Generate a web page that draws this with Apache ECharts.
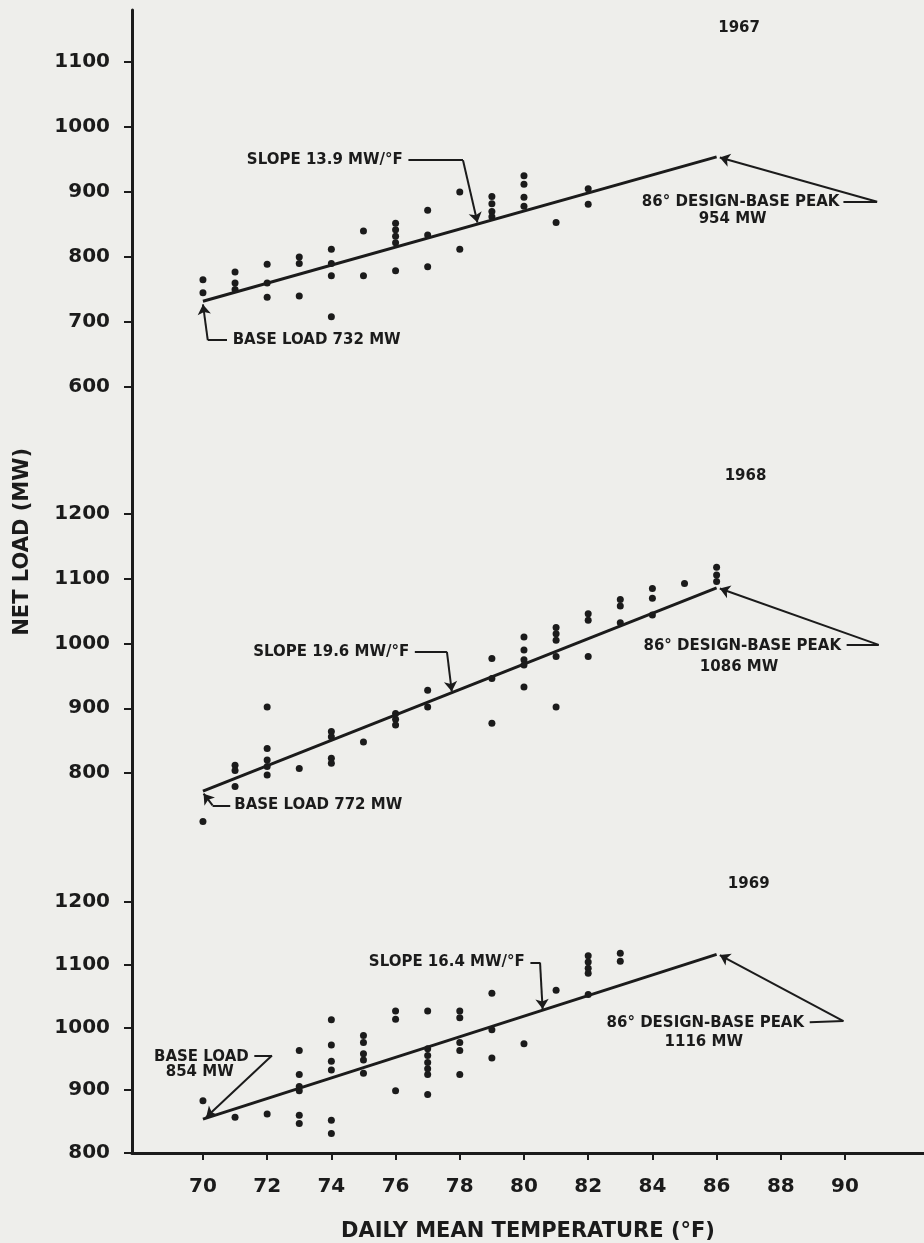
<!DOCTYPE html>
<html lang="en">
<head>
<meta charset="UTF-8">
<title>Net load vs daily mean temperature 1967-1969</title>
<style>
  body { margin: 0; background: #eeeeeb; }
  #chart { width: 924px; height: 1243px; }
</style>
</head>
<body>
<div id="chart"></div>
<script src="https://cdn.jsdelivr.net/npm/echarts@6/dist/echarts.min.js"></script>
<script>
// daily mean temperature (F) and net load (MW)
var temp1967 = [70,70, 71,71,71, 72,72,72, 73,73,73, 74,74,74,74, 75,75, 76,76,76,76,76, 77,77,77, 78,78, 79,79,79,79, 80,80,80,80, 81, 82,82];
var load1967 = [765,745, 777,760,750, 789,760,738, 800,790,740, 812,790,771,708, 840,771, 852,842,832,822,779, 872,834,785, 900,812, 893,882,870,862, 925,912,892,878, 853, 905,881];

var temp1968 = [70, 71,71,71, 72,72,72,72,72, 73, 74,74,74,74, 75, 76,76,76, 77,77, 79,79,79, 80,80,80,80,80, 81,81,81,81,81, 82,82,82, 83,83,83, 84,84,84, 85, 86,86,86];
var load1968 = [725, 812,804,779, 902,838,820,810,797, 807, 864,856,823,815, 848, 892,883,874, 928,902, 977,946,877, 1010,990,975,967,933, 1025,1015,1005,980,902, 1046,1036,980, 1068,1058,1032, 1085,1070,1044, 1093, 1118,1106,1096];

var temp1969 = [70, 71, 72, 73,73,73,73,73,73, 74,74,74,74,74,74, 75,75,75,75,75, 76,76,76, 77,77,77,77,77,77,77, 78,78,78,78,78, 79,79,79, 80, 81, 82,82,82,82,82, 83,83];
var load1969 = [883, 857, 862, 963,925,906,899,860,847, 1012,972,946,932,852,831, 987,976,958,948,927, 1026,1013,899, 1026,966,955,944,934,925,893, 1026,1015,976,963,925, 1054,996,951, 974, 1059, 1114,1104,1094,1086,1052, 1118,1105];

// fitted lines: base load at 70F, design-base peak at 86F
var fitTemp = [70, 86];
var fitLoad1967 = [732, 954];
var fitLoad1968 = [772, 1086];
var fitLoad1969 = [854, 1116];

// tick labels
var xTicks = [70, 72, 74, 76, 78, 80, 82, 84, 86, 88, 90];
var yTicks1967 = [600, 700, 800, 900, 1000, 1100];
var yTicks1968 = [800, 900, 1000, 1100, 1200];
var yTicks1969 = [800, 900, 1000, 1100, 1200];

// leader lines of the notes, [temp, load] points, arrow at the last one
var leaders1967 = [
  [[76.4, 949], [78.1, 949], [78.55, 853]],
  [[70.75, 672], [70.15, 672], [70.0, 727]],
  [[89.95, 885], [91.0, 885], [86.1, 953]]
];
var leaders1968 = [
  [[76.6, 987], [77.6, 987], [77.75, 926]],
  [[70.85, 750], [70.3, 750], [70.02, 768]],
  [[90.05, 998], [91.05, 998], [86.1, 1085]]
];
var leaders1969 = [
  [[71.6, 955], [72.15, 955], [70.1, 857]],
  [[80.2, 1103], [80.5, 1103], [80.58, 1029]],
  [[88.9, 1008], [89.95, 1010], [86.1, 1115]]
];

// notes: [temp, load, text, side]
var notes1967 = [
  [86.7, 1152, '1967', 'inside'],
  [76.35, 949, 'SLOPE 13.9 MW/°F', 'left'],
  [70.8, 672, 'BASE LOAD 732 MW', 'right'],
  [89.95, 885, '86° DESIGN-BASE PEAK', 'left'],
  [86.5, 858, '954 MW', 'inside']
];
var notes1968 = [
  [86.9, 1259, '1968', 'inside'],
  [76.55, 987, 'SLOPE 19.6 MW/°F', 'left'],
  [70.85, 750, 'BASE LOAD 772 MW', 'right'],
  [90.0, 996, '86° DESIGN-BASE PEAK', 'left'],
  [86.7, 964, '1086 MW', 'inside']
];
var notes1969 = [
  [87.0, 1228, '1969', 'inside'],
  [80.15, 1103, 'SLOPE 16.4 MW/°F', 'left'],
  [69.95, 953, 'BASE LOAD', 'inside'],
  [69.9, 929, '854 MW', 'inside'],
  [88.85, 1006, '86° DESIGN-BASE PEAK', 'left'],
  [85.6, 976, '1116 MW', 'inside']
];

var ink = '#1b1b1b';
var font = 'DejaVu Sans';

var panels = [
  {temp: temp1967, load: load1967, fit: fitLoad1967, ticks: yTicks1967, leaders: leaders1967, notes: notes1967, top: 10, height: 442, min: 500, max: 1180},
  {temp: temp1968, load: load1968, fit: fitLoad1968, ticks: yTicks1968, leaders: leaders1968, notes: notes1968, top: 452, height: 388, min: 696.5, max: 1296},
  {temp: temp1969, load: load1969, fit: fitLoad1969, ticks: yTicks1969, leaders: leaders1969, notes: notes1969, top: 840, height: 320, min: 800, max: 1298}
];

var myChart = echarts.init(document.getElementById('chart'));

var grids = [], xAxes = [], yAxes = [], series = [];
panels.forEach(function (p, i) {
  var last = i === panels.length - 1;
  grids.push({left: 132, right: 0, top: p.top, height: p.height});
  xAxes.push({
    gridIndex: i, type: 'value', min: 67.79, max: 92.46,
    show: last,
    axisLine: {show: true, lineStyle: {color: ink, width: 3}},
    axisTick: {show: true, customValues: xTicks, length: 7, lineStyle: {color: ink, width: 2}},
    axisLabel: {customValues: xTicks, margin: 24, color: ink, fontFamily: font, fontWeight: 'bold', fontSize: 20,
      formatter: function (v) { return String(v); }},
    splitLine: {show: false},
    name: last ? 'DAILY MEAN TEMPERATURE (°F)' : '',
    nameLocation: 'middle', nameGap: 68,
    nameTextStyle: {color: ink, fontFamily: font, fontWeight: 'bold', fontSize: 21}
  });
  yAxes.push({
    gridIndex: i, type: 'value', min: p.min, max: p.max,
    axisLine: {show: true, onZero: false, lineStyle: {color: ink, width: 3}},
    axisTick: {show: true, customValues: p.ticks, length: 8, lineStyle: {color: ink, width: 2}},
    axisLabel: {customValues: p.ticks, margin: 22, color: ink, fontFamily: font, fontWeight: 'bold', fontSize: 20,
      formatter: function (v) { return String(v); }},
    splitLine: {show: false}
  });
  // observed days
  series.push({
    type: 'scatter', xAxisIndex: i, yAxisIndex: i,
    symbolSize: 7, itemStyle: {color: ink, opacity: 1},
    data: p.temp.map(function (t, k) { return [t, p.load[k]]; })
  });
  // fitted line
  series.push({
    type: 'line', xAxisIndex: i, yAxisIndex: i,
    showSymbol: false, lineStyle: {color: ink, width: 3},
    data: fitTemp.map(function (t, k) { return [t, p.fit[k]]; })
  });
  // leader lines: plain segments, then the last segment with an arrow
  var plain = [], arrowed = [];
  p.leaders.forEach(function (c) {
    for (var k = 0; k < c.length - 2; k++) plain.push({coords: [c[k], c[k + 1]]});
    arrowed.push({coords: [c[c.length - 2], c[c.length - 1]]});
  });
  series.push({
    type: 'lines', coordinateSystem: 'cartesian2d', xAxisIndex: i, yAxisIndex: i,
    symbol: ['none', 'none'],
    lineStyle: {color: ink, width: 2, opacity: 1, curveness: 0},
    data: plain
  });
  series.push({
    type: 'lines', coordinateSystem: 'cartesian2d', xAxisIndex: i, yAxisIndex: i,
    symbol: ['none', 'arrow'], symbolSize: 10,
    itemStyle: {color: ink},
    lineStyle: {color: ink, width: 2, opacity: 1, curveness: 0},
    data: arrowed
  });
  // note texts
  series.push({
    type: 'scatter', xAxisIndex: i, yAxisIndex: i,
    symbolSize: 0, silent: true, itemStyle: {opacity: 1, color: ink},
    label: {show: true, formatter: '{b}', color: ink, fontFamily: font, fontWeight: 'bold', fontSize: 15},
    data: p.notes.map(function (n) {
      return {name: n[2], value: [n[0], n[1]], label: {position: n[3], distance: 4}};
    })
  });
});

var option = {
  animation: false,
  backgroundColor: '#eeeeeb',
  grid: grids,
  xAxis: xAxes,
  yAxis: yAxes,
  series: series,
  graphic: [{
    type: 'text', left: 12, top: 448, rotation: Math.PI / 2,
    style: {text: 'NET LOAD (MW)', fill: ink, font: 'bold 21px "DejaVu Sans"'}
  }]
};
myChart.setOption(option);
</script>
</body>
</html>
